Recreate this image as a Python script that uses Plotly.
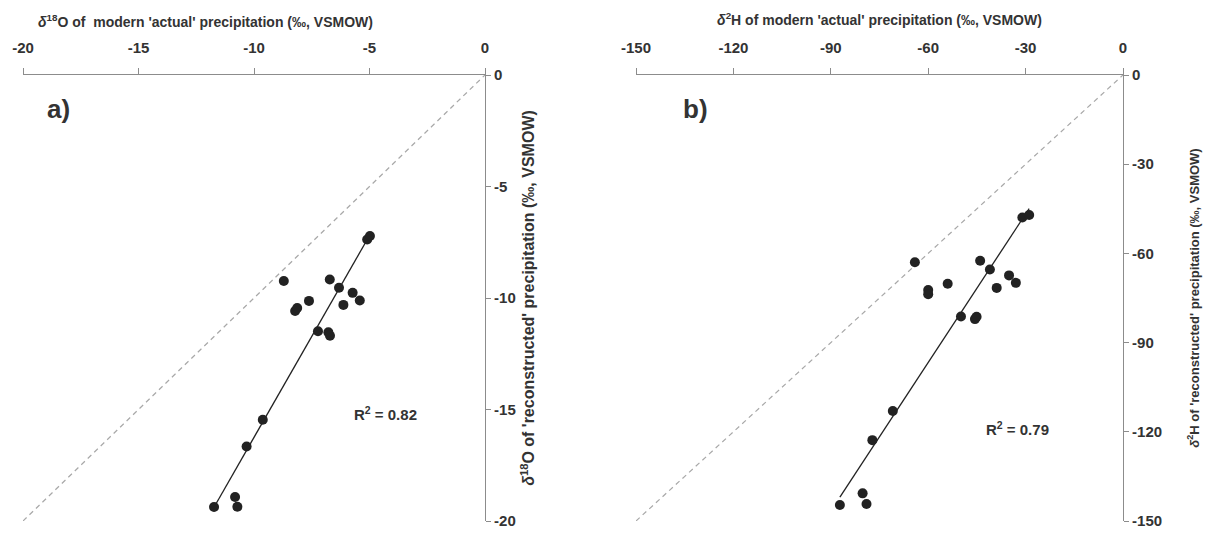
import numpy as np
import plotly.graph_objects as go

# ---- data ----
d18O_actual = [-11.73, -10.82, -10.72, -10.32, -9.62, -5.10, -4.98, -8.71, -6.72, -6.32,
               -5.73, -5.42, -6.13, -7.62, -8.22, -8.13, -7.23, -6.78, -6.71]
d18O_recon = [-19.37, -18.92, -19.36, -16.66, -15.46, -7.38, -7.22, -9.24, -9.17, -9.54,
              -9.77, -10.11, -10.31, -10.13, -10.58, -10.45, -11.49, -11.54, -11.69]

d2H_actual = [-87.2, -80.2, -79.0, -77.2, -70.9, -31.0, -28.9, -64.1, -44.0, -41.0,
              -35.1, -33.0, -38.9, -54.0, -60.0, -60.0, -49.9, -45.6, -45.1]
d2H_recon = [-144.6, -140.7, -144.3, -122.8, -113.0, -47.9, -47.1, -63.0, -62.5, -65.4,
             -67.4, -69.9, -71.6, -70.2, -72.3, -73.7, -81.2, -82.1, -81.3]

# trendlines as drawn in the reference (slope, intercept)
trend_a = [1.81, 1.85]
trend_b = [1.665, 3.2]

a_range = [-20, 0]
a_ticks = [-20, -15, -10, -5, 0]
b_range = [-150, 0]
b_ticks = [-150, -120, -90, -60, -30, 0]

r2_a = "R<sup>2</sup> = 0.82"
r2_b = "R<sup>2</sup> = 0.79"

FONT = "Liberation Sans"
TXT = "#333333"
AXC = "#8c8c8c"

fig = go.Figure()


def add_panel(x, y, rng, trend, xa, ya):
    x = np.array(x)
    y = np.array(y)
    # 1:1 line
    fig.add_trace(go.Scatter(x=rng, y=rng, mode="lines", xaxis=xa, yaxis=ya,
                             line=dict(color="#a8a8a8", width=1.2, dash="5px,4px"),
                             hoverinfo="skip", showlegend=False))
    # trendline
    k, c = trend
    xs = np.array([x.min(), x.max()])
    fig.add_trace(go.Scatter(x=xs, y=k * xs + c, mode="lines", xaxis=xa, yaxis=ya,
                             line=dict(color="#222222", width=1.3),
                             hoverinfo="skip", showlegend=False))
    fig.add_trace(go.Scatter(x=x, y=y, mode="markers", xaxis=xa, yaxis=ya,
                             marker=dict(size=10, color="#222222"),
                             showlegend=False))


add_panel(d18O_actual, d18O_recon, a_range, trend_a, "x", "y")
add_panel(d2H_actual, d2H_recon, b_range, trend_b, "x2", "y2")

# page body has an 8px margin -> figure is 1202x522 and every
# reference pixel position p maps to p - 8 inside the figure
W, H = 1202, 522
OFF = 8


def px(p):
    return (p - OFF) / W


def py(p):
    return 1 - (p - OFF) / H


ydom = [py(521), py(75)]

tickfont = dict(family=FONT, size=15, color=TXT, weight="bold")

common_x = dict(side="top", showline=True, linecolor=AXC, linewidth=1.2,
                ticks="outside", ticklen=6, tickcolor=AXC, tickwidth=1.2, automargin=False,
                showgrid=False, zeroline=False, tickfont=tickfont, ticklabelstandoff=9)
common_y = dict(side="right", showline=True, linecolor=AXC, linewidth=1.2,
                ticks="outside", ticklen=5, tickcolor=AXC, tickwidth=1.2, automargin=False,
                showgrid=False, zeroline=False, tickfont=tickfont)


def labels(ticks):
    return [str(t) for t in ticks]


fig.update_layout(
    width=W, height=H,
    margin=dict(l=0, r=0, t=0, b=0),
    paper_bgcolor="white", plot_bgcolor="white",
    xaxis=dict(domain=[px(23), px(485)], range=a_range, tickvals=a_ticks, ticktext=labels(a_ticks),
               anchor="y", **common_x),
    yaxis=dict(domain=ydom, range=a_range, tickvals=a_ticks, ticktext=labels(a_ticks), anchor="x",
               title=dict(text="<i>δ</i><sup>18</sup>O of 'reconstructed' precipitation (‰, VSMOW)",
                          font=dict(family=FONT, size=16, color=TXT, weight="bold"), standoff=8),
               **common_y),
    xaxis2=dict(domain=[px(636), px(1123)], range=b_range, tickvals=b_ticks, ticktext=labels(b_ticks),
                anchor="y2",
                title=dict(text="<i>δ</i><sup>2</sup>H of modern 'actual' precipitation (‰, VSMOW)",
                           font=dict(family=FONT, size=14, color=TXT, weight="bold"), standoff=10),
                **common_x),
    yaxis2=dict(domain=ydom, range=b_range, tickvals=b_ticks, ticktext=labels(b_ticks), anchor="x2",
                title=dict(text="<i>δ</i><sup>2</sup>H of 'reconstructed' precipitation (‰, VSMOW)",
                           font=dict(family=FONT, size=13, color=TXT, weight="bold"), standoff=28),
                **common_y),
    annotations=[
        dict(text="<i>δ</i><sup>18</sup>O of  modern 'actual' precipitation (‰, VSMOW)",
             x=px(36), y=py(21), xref="paper", yref="paper", showarrow=False,
             xanchor="left", yanchor="middle",
             font=dict(family=FONT, size=14, color=TXT, weight="bold")),
        dict(text="a)", x=px(58), y=py(109), xref="paper", yref="paper", showarrow=False,
             xanchor="center", yanchor="middle",
             font=dict(family=FONT, size=26, color=TXT, weight="bold")),
        dict(text="b)", x=px(695), y=py(109), xref="paper", yref="paper", showarrow=False,
             xanchor="center", yanchor="middle",
             font=dict(family=FONT, size=26, color=TXT, weight="bold")),
        dict(text=r2_a, x=px(385), y=py(413), xref="paper", yref="paper", showarrow=False,
             xanchor="center", yanchor="middle",
             font=dict(family=FONT, size=15, color=TXT, weight="bold")),
        dict(text=r2_b, x=px(1017), y=py(428), xref="paper", yref="paper", showarrow=False,
             xanchor="center", yanchor="middle",
             font=dict(family=FONT, size=15, color=TXT, weight="bold")),
    ],
)

fig.write_html("out.html")
